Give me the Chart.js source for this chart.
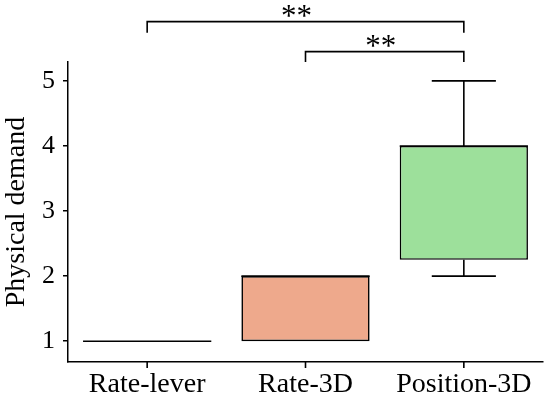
<!DOCTYPE html>
<html><head><meta charset="utf-8">
<script src="https://cdn.jsdelivr.net/npm/chart.js@4.4.0/dist/chart.umd.min.js"></script>
<style>html,body{margin:0;padding:0;background:#fff;}#wrap{width:550px;height:399px;}</style>
</head><body><div id="wrap"><canvas id="c" width="550" height="399"></canvas></div>
<script>
const categories = ["Rate-lever", "Rate-3D", "Position-3D"];
const whiskerLow = [1, 1, 2];
const q1 = [1, 1, 2.25];
const median = [1, 2, 4];
const q3 = [1, 2, 4];
const whiskerHigh = [1, 2, 5];
const boxColors = ["#ffffff", "#EEA98C", "#9DE09B"];
const yTicks = [1, 2, 3, 4, 5];
// significance brackets
const bracketFrom = [0, 1];
const bracketTo = [2, 2];
const bracketLevel = [5.91, 5.45];
const bracketDrop = [5.74, 5.29];
const bracketLabel = ["**", "**"];

const FONT = "'Liberation Serif', 'Times New Roman', serif";
const starShift = [-9, -4];

const boxPlugin = {
  id: 'boxExtras',
  afterDraw(chart) {
    const ctx = chart.ctx, x = chart.scales.x, y = chart.scales.y;
    const meta = chart.getDatasetMeta(0);
    ctx.save();
    ctx.strokeStyle = '#000';
    ctx.lineWidth = 1.6;
    const xb = chart.chartArea.bottom;
    categories.forEach((c, i) => {
      const bar = meta.data[i];
      const cx = x.getPixelForValue(i);
      const half = bar.width / 2;
      const capHalf = half / 2;
      const yl = y.getPixelForValue(whiskerLow[i]);
      const yq1 = y.getPixelForValue(q1[i]);
      const yq3 = y.getPixelForValue(q3[i]);
      const yh = y.getPixelForValue(whiskerHigh[i]);
      const ym = y.getPixelForValue(median[i]);
      ctx.beginPath();
      if (whiskerHigh[i] > q3[i]) {
        ctx.moveTo(cx, yq3); ctx.lineTo(cx, yh);
        ctx.moveTo(cx - capHalf, yh); ctx.lineTo(cx + capHalf, yh);
      }
      if (whiskerLow[i] < q1[i]) {
        ctx.moveTo(cx, yq1); ctx.lineTo(cx, yl);
        ctx.moveTo(cx - capHalf, yl); ctx.lineTo(cx + capHalf, yl);
      }
      ctx.moveTo(cx - half, ym); ctx.lineTo(cx + half, ym);
      ctx.stroke();
      // x tick marks at category centres
      ctx.beginPath();
      ctx.moveTo(cx, xb); ctx.lineTo(cx, xb + 6);
      ctx.stroke();
    });
    // brackets
    ctx.font = "31px " + FONT;
    ctx.fillStyle = '#000';
    ctx.textAlign = 'center';
    ctx.textBaseline = 'alphabetic';
    bracketFrom.forEach((f, k) => {
      const x1 = x.getPixelForValue(f), x2 = x.getPixelForValue(bracketTo[k]);
      const yb = y.getPixelForValue(bracketLevel[k]);
      const yd = y.getPixelForValue(bracketDrop[k]);
      ctx.beginPath();
      ctx.moveTo(x1, yd); ctx.lineTo(x1, yb); ctx.lineTo(x2, yb); ctx.lineTo(x2, yd);
      ctx.stroke();
      ctx.fillText(bracketLabel[k], (x1 + x2) / 2 + starShift[k], yb + 4);
    });
    ctx.restore();
  }
};

new Chart(document.getElementById('c'), {
  type: 'bar',
  data: {
    labels: categories,
    datasets: [{
      data: categories.map((c, i) => [q1[i], q3[i]]),
      backgroundColor: boxColors,
      borderColor: '#000',
      borderWidth: 1.6,
      borderSkipped: false,
      barPercentage: 0.81,
      categoryPercentage: 1.0
    }]
  },
  options: {
    responsive: false,
    animation: false,
    devicePixelRatio: 1,
    layout: { padding: { top: 62, right: 7, left: 0, bottom: 0 } },
    plugins: { legend: { display: false }, tooltip: { enabled: false } },
    scales: {
      x: {
        grid: { display: true, offset: false, drawOnChartArea: false, drawTicks: true, tickLength: 5, color: 'rgba(0,0,0,0)', lineWidth: 1.5 },
        border: { display: true, color: '#000', width: 1.5 },
        ticks: { color: '#000', font: { family: FONT, size: 28 }, padding: 1, maxRotation: 0 },
        afterFit(s) { s.height = 37; }
      },
      y: {
        min: 0.68, max: 5.29,
        afterBuildTicks(s) { s.ticks = yTicks.map(v => ({ value: v })); },
        grid: { display: true, drawOnChartArea: false, drawTicks: true, tickLength: 5, color: '#000', lineWidth: 1.5 },
        border: { display: true, color: '#000', width: 1.5 },
        ticks: { color: '#000', font: { family: FONT, size: 26 }, padding: 8 },
        title: { display: true, text: 'Physical demand', color: '#000', font: { family: FONT, size: 28 }, padding: { top: 0, bottom: 0 } },
        afterFit(s) { s.width = 68; }
      }
    }
  },
  plugins: [boxPlugin]
});
</script></body></html>
